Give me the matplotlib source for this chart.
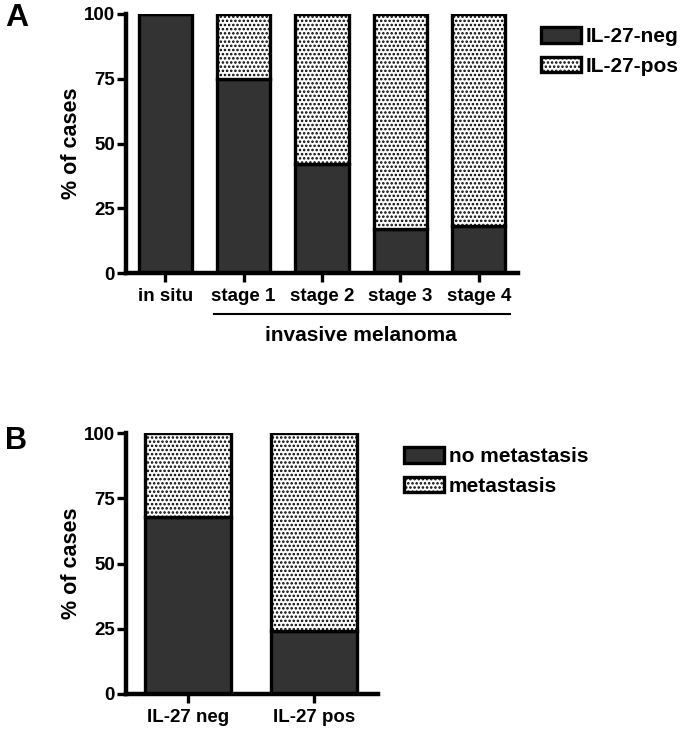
import matplotlib
matplotlib.use("Agg")
import matplotlib.pyplot as plt
import matplotlib.transforms as mtransforms
from matplotlib.lines import Line2D

plt.rcParams['font.family'] = ['Liberation Sans', 'DejaVu Sans']
plt.rcParams['font.weight'] = 'bold'
plt.rcParams['hatch.linewidth'] = 1.2

# Panel A data
stages = ["in situ", "stage 1", "stage 2", "stage 3", "stage 4"]
il27_neg = [100, 75, 42, 17, 18]
il27_pos = [0, 25, 58, 83, 82]

# Panel B data
groups = ["IL-27 neg", "IL-27 pos"]
no_metastasis = [68, 24]
metastasis = [32, 76]

yticks = [0, 25, 50, 75, 100]

dark = "#333333"
edge_lw = 2.4
W, H = 687, 736
fig = plt.figure(figsize=(W / 100, H / 100), dpi=100)

def style_ax(ax):
    for s in ["top", "right"]:
        ax.spines[s].set_visible(False)
    for s in ["left", "bottom"]:
        ax.spines[s].set_linewidth(3.2)
    ax.tick_params(axis="both", width=2.4, length=6.5, labelsize=13.5, pad=1.5)
    ax.set_ylim(0, 100)
    ax.set_yticks(yticks)
    ax.set_ylabel("% of cases", fontsize=15.5, fontweight="bold", labelpad=1.5)
    for lbl in ax.get_xticklabels() + ax.get_yticklabels():
        lbl.set_fontweight("bold")

leg_kw = dict(frameon=False, fontsize=15, handlelength=1.9, handleheight=0.78,
              handletextpad=0.25, borderpad=0, borderaxespad=0, labelspacing=0.5,
              loc="upper left")

# Panel A
axA = fig.add_axes([126 / W, 1 - 273 / H, (518 - 126) / W, (273 - 14) / H])
xa = list(range(len(stages)))
axA.bar(xa, il27_neg, width=0.68, color=dark, edgecolor="black", linewidth=edge_lw, label="IL-27-neg")
axA.bar(xa, il27_pos, width=0.68, bottom=il27_neg, color="white", edgecolor="black",
        hatch="....", linewidth=edge_lw, label="IL-27-pos")
axA.set_xlim(-0.5, 4.5)
axA.set_xticks(xa)
axA.set_xticklabels(stages)
style_ax(axA)
axA.tick_params(axis="x", pad=4)
trans = mtransforms.blended_transform_factory(axA.transData, axA.transAxes)
axA.add_line(Line2D([0.62, 4.4], [-0.158, -0.158], transform=trans, color="black",
                    linewidth=1.5, clip_on=False))
axA.text(2.5, -0.24, "invasive melanoma", transform=trans, ha="center", va="center",
         fontsize=15, fontweight="bold")
legA = axA.legend(bbox_to_anchor=(541 / W, 1 - 27 / H), bbox_transform=fig.transFigure, **leg_kw)
for t in legA.get_texts():
    t.set_fontweight("bold")
fig.text(5 / W, 1 - 18 / H, "A", fontsize=23, fontweight="bold", va="center", ha="left")

# Panel B
axB = fig.add_axes([126 / W, 1 - 694 / H, (378 - 126) / W, (694 - 433) / H])
xb = list(range(len(groups)))
axB.bar(xb, no_metastasis, width=0.68, color=dark, edgecolor="black", linewidth=edge_lw,
        label="no metastasis")
axB.bar(xb, metastasis, width=0.68, bottom=no_metastasis, color="white", edgecolor="black",
        hatch="....", linewidth=edge_lw, label="metastasis")
axB.set_xlim(-0.49, 1.51)
axB.set_xticks(xb)
axB.set_xticklabels(groups)
style_ax(axB)
axB.tick_params(axis="x", pad=4)
legB = axB.legend(bbox_to_anchor=(404 / W, 1 - 447 / H), bbox_transform=fig.transFigure, **leg_kw)
for t in legB.get_texts():
    t.set_fontweight("bold")
fig.text(5 / W, 1 - 441 / H, "B", fontsize=22, fontweight="bold", va="center", ha="left")

fig.savefig("out.png", dpi=100)
